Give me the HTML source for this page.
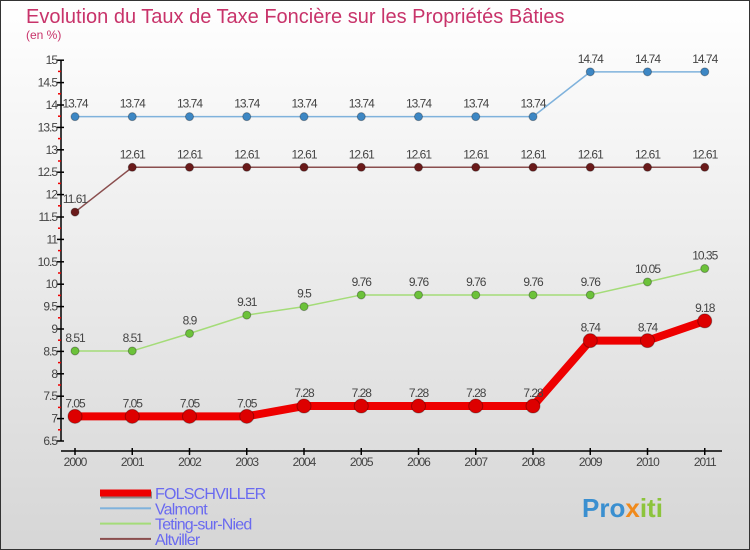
<!DOCTYPE html>
<html><head><meta charset="utf-8"><style>
body{margin:0;width:750px;height:550px;overflow:hidden;font-family:"Liberation Sans",sans-serif}
svg{display:block}
</style></head><body>
<svg id="chart" width="750" height="550">
<defs>
<linearGradient id="bg" x1="0" y1="0" x2="0" y2="1"><stop offset="0" stop-color="#ffffff"/><stop offset="1" stop-color="#d6d6d6"/></linearGradient>
</defs>
<rect x="0.5" y="0.5" width="749" height="549" fill="url(#bg)" stroke="#333"/>
<text x="26" y="23" font-size="20" fill="#c8336a">Evolution du Taux de Taxe Foncière sur les Propriétés Bâties</text>
<text x="26" y="39" font-size="12" fill="#c8336a">(en %)</text>
<g id="axes"></g>
<g id="series"></g>
<g id="legend"></g>
<text x="582" y="517" font-size="26" font-weight="bold" fill="#3a8fd0">Pro<tspan fill="#f08a1c">x</tspan><tspan fill="#8cc43c">iti</tspan></text>
</svg>
<script>
const years=["2000","2001","2002","2003","2004","2005","2006","2007","2008","2009","2010","2011"];
const folschviller=[7.05,7.05,7.05,7.05,7.28,7.28,7.28,7.28,7.28,8.74,8.74,9.18];
const valmont=[13.74,13.74,13.74,13.74,13.74,13.74,13.74,13.74,13.74,14.74,14.74,14.74];
const teting=[8.51,8.51,8.9,9.31,9.5,9.76,9.76,9.76,9.76,9.76,10.05,10.35];
const altviller=[11.61,12.61,12.61,12.61,12.61,12.61,12.61,12.61,12.61,12.61,12.61,12.61];
const yTicks=[6.5,7,7.5,8,8.5,9,9.5,10,10.5,11,11.5,12,12.5,13,13.5,14,14.5,15];
const NS="http://www.w3.org/2000/svg";
const X=i=>75+i*57.25;
const Y=v=>441-(v-6.5)*44.8;
function mk(p,t,a){const e=document.createElementNS(NS,t);for(const k in a)e.setAttribute(k,a[k]);p.appendChild(e);return e;}
const ax=document.getElementById('axes');
let l=mk(ax,'line',{x1:61,y1:Y(15),x2:61,y2:Y(6.5),stroke:'#000','stroke-width':1.5});


yTicks.forEach(v=>{
 const t=mk(ax,'line',{x1:57,x2:64,y1:Y(v),y2:Y(v),stroke:'#000','stroke-width':1.5});
 
 
 if(v<15){const m=mk(ax,'line',{x1:58,x2:61,y1:Y(v+0.25),y2:Y(v+0.25),stroke:'#e00','stroke-width':1.5});
 
 }
 const tx=mk(ax,'text',{x:57,y:Y(v)+4,'text-anchor':'end','font-size':12,fill:'#444','letter-spacing':'-1'});
 tx.textContent=String(v);
 
 
});
l=mk(ax,'line',{x1:61,y1:451,x2:722,y2:451,stroke:'#000','stroke-width':1.5});


years.forEach((y,i)=>{
 const t=mk(ax,'line',{x1:X(i),x2:X(i),y1:448,y2:455,stroke:'#000','stroke-width':1.5});
 
 
 const tx=mk(ax,'text',{x:X(i),y:466,'text-anchor':'middle','font-size':12,fill:'#444','letter-spacing':'-1'});
 tx.textContent=y;
 
 
});
const sg=document.getElementById('series');
function series(data,name,color,lw,r,dot){
 const g=mk(sg,'g',{});
 
 
 const pl=mk(g,'polyline',{points:data.map((v,i)=>X(i)+','+Y(v)).join(' '),fill:'none',stroke:color,'stroke-width':lw,'stroke-linejoin':'round'});
 
 
 data.forEach((v,i)=>{
  const c=mk(g,'circle',{cx:X(i),cy:Y(v),r:r,fill:dot,stroke:'rgba(0,0,0,0.3)','stroke-width':1});
  
  
  const t=mk(g,'text',{x:X(i),y:Y(v)-9,'text-anchor':'middle','font-size':12,fill:'#444','letter-spacing':'-1'});
  t.textContent=String(v);
  
  
 });
}
series(valmont,'valmont','#7fb2dc',1.5,4,'#3d87c4');
series(altviller,'altviller','#8a4e4e',1.5,4,'#6a1a1a');
series(teting,'teting-sur-nied','#a4dc78',1.5,4,'#6cc23a');
series(folschviller,'folschviller','#ee0000',8,7,'#dd0000');
const lg=document.getElementById('legend');
const items=[["FOLSCHVILLER","#ee0000",7],["Valmont","#7fb2dc",2],["Teting-sur-Nied","#a4dc78",2],["Altviller","#8a4e4e",2]];
items.forEach((it,i)=>{
 const y=493+i*15.3;
 if(i==0){
  const s=mk(lg,'rect',{x:101,y:y-it[2]/2+2,width:51,height:it[2],fill:'#888'});
  
  
 }
 const ln=mk(lg,'rect',{x:100,y:y-it[2]/2,width:51,height:it[2],fill:it[1]});
 
 
 const t=mk(lg,'text',{x:155,y:y+6,'font-size':16,fill:'#6a6af0','letter-spacing':'-0.8'});
 t.textContent=it[0];
 
 
});
</script>
</body></html>
